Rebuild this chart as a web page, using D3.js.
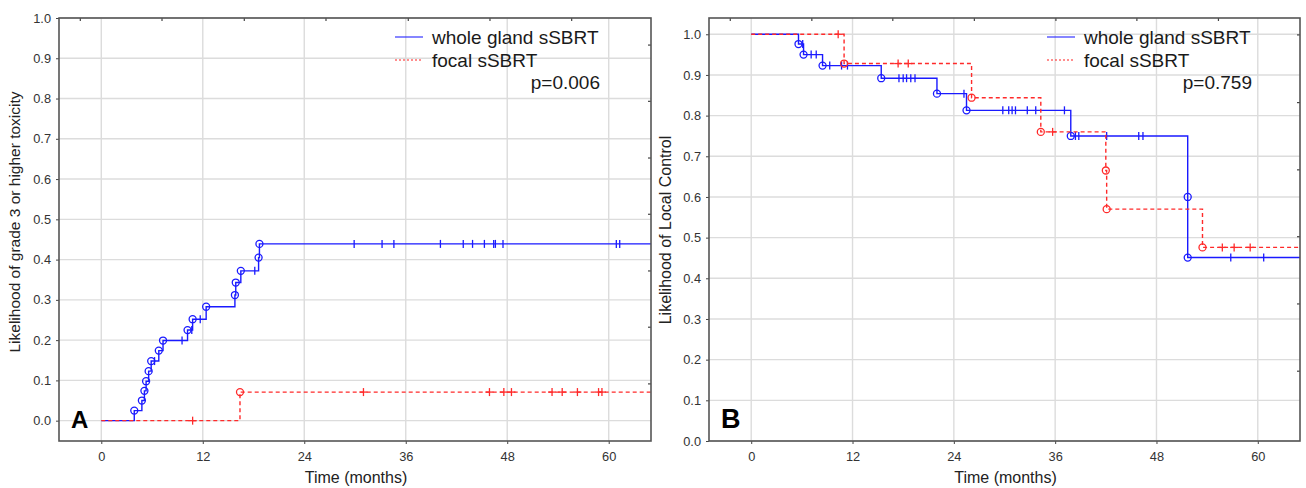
<!DOCTYPE html>
<html>
<head>
<meta charset="utf-8">
<script src="https://cdn.jsdelivr.net/npm/d3@7/dist/d3.min.js"></script>
<style>
  html, body { margin: 0; padding: 0; background: #fff; }
  svg { display: block; font-family: "Liberation Sans", Arial, sans-serif; }
</style>
</head>
<body>
<svg id="chart" width="1306" height="488"></svg>
<script>
// month ticks shared by both panels
const monthTicks = [0, 12, 24, 36, 48, 60];
const seriesNames = ['whole gland sSBRT', 'focal sSBRT'];

// Panel A: cumulative grade >= 3 toxicity
const wholeA_time = [0, 3.9, 4.8, 5.1, 5.3, 5.6, 5.9, 6.8, 7.3, 10.2, 10.8, 12.4, 15.8, 15.9, 16.5, 18.6, 18.7];
const wholeA_value = [0, 0.025, 0.050, 0.074, 0.098, 0.123, 0.148, 0.174, 0.199, 0.225, 0.252, 0.283, 0.312, 0.343, 0.372, 0.405, 0.439];
const wholeA_censor = [6.3, 9.55, 10.7, 11.7, 18.15, 29.9, 33.2, 34.6, 40.1, 42.8, 43.9, 45.3, 46.4, 46.6, 47.5, 60.9, 61.3];
const focalA_time = [0, 16.4];
const focalA_value = [0, 0.071];
const focalA_censor = [10.8, 31.0, 45.9, 47.6, 48.5, 53.3, 54.5, 56.3, 58.8, 59.2];
const yTicksA = [0, 0.1, 0.2, 0.3, 0.4, 0.5, 0.6, 0.7, 0.8, 0.9, 1.0];

// Panel B: local control
const wholeB_time = [0, 5.6, 6.2, 8.45, 15.4, 22.0, 25.5, 37.85, 51.7, 51.7];
const wholeB_value = [1, 0.976, 0.950, 0.923, 0.892, 0.854, 0.813, 0.750, 0.600, 0.451];
const wholeB_censor = [6.1, 7.1, 7.7, 9.3, 10.7, 11.4, 17.5, 18.0, 18.4, 18.9, 19.4, 25.2, 29.8, 30.5, 30.9, 31.3, 32.7, 33.7, 37.1, 38.4, 38.8, 42.1, 45.9, 46.4, 56.8, 60.7];
const focalB_time = [0, 11.0, 26.1, 34.3, 42.0, 42.1, 53.45];
const focalB_value = [1, 0.928, 0.844, 0.760, 0.665, 0.570, 0.476];
const focalB_censor = [10.3, 17.4, 18.6, 35.7, 55.8, 57.2, 59.1];
const yTicksB = [0, 0.1, 0.2, 0.3, 0.4, 0.5, 0.6, 0.7, 0.8, 0.9, 1.0];

const BLUE = '#1a1aff';
const RED = '#ff2a2a';

const svg = d3.select('#chart');

function drawPanel(cfg) {
  const { left, right, top, bottom } = cfg;
  const x = d3.scaleLinear().domain([-5, 65]).range([left, right]);
  const y = d3.scaleLinear().domain(cfg.yDomain).range([bottom, top]);

  const g = svg.append('g');
  const clipId = 'clip-' + cfg.id;
  svg.append('clipPath').attr('id', clipId)
    .append('rect')
    .attr('x', left).attr('y', top - 6)
    .attr('width', right - left).attr('height', bottom - top + 6);

  // grid
  g.append('g').selectAll('line').data(monthTicks).enter().append('line')
    .attr('x1', d => x(d)).attr('x2', d => x(d))
    .attr('y1', top).attr('y2', bottom)
    .attr('stroke', '#dcdcdc').attr('stroke-width', 1.4);
  g.append('g').selectAll('line').data(cfg.yTicks).enter().append('line')
    .attr('x1', left).attr('x2', right)
    .attr('y1', d => y(d)).attr('y2', d => y(d))
    .attr('stroke', '#dcdcdc').attr('stroke-width', 1.4);

  // axes
  const xAxis = g.append('g')
    .attr('transform', `translate(0,${bottom})`)
    .call(d3.axisBottom(x).tickValues(monthTicks).tickSize(3).tickPadding(8));
  const yAxis = g.append('g')
    .attr('transform', `translate(${left},0)`)
    .call(d3.axisLeft(y).tickValues(cfg.yTicks).tickFormat(d3.format('.1f')).tickSize(3).tickPadding(5));
  [xAxis, yAxis].forEach(a => {
    a.select('.domain').remove();
    a.selectAll('.tick line').attr('stroke', '#444');
    a.selectAll('.tick text')
      .attr('fill', '#333')
      .style('font-size', '12.8px')
      .style('font-family', '"Liberation Sans", Arial, sans-serif');
  });

  // stray minor ticks on top and right edges
  const topScale = d3.scaleLinear().domain([0, 1]).range([left, right]);
  g.append('g').selectAll('line').data(cfg.topTicks).enter().append('line')
    .attr('x1', d => topScale(d)).attr('x2', d => topScale(d))
    .attr('y1', top).attr('y2', top + 3)
    .attr('stroke', '#444').attr('stroke-width', 1.2);
  const rightScale = d3.scaleLinear().domain([0, 1]).range([top, bottom]);
  g.append('g').selectAll('line').data(cfg.rightTicks).enter().append('line')
    .attr('x1', right - 3).attr('x2', right)
    .attr('y1', d => rightScale(d)).attr('y2', d => rightScale(d))
    .attr('stroke', '#444').attr('stroke-width', 1.2);

  // survival / incidence curves
  const plot = g.append('g').attr('clip-path', `url(#${clipId})`);
  const stepLine = d3.line()
    .x(d => x(d[0])).y(d => y(d[1]))
    .curve(d3.curveStepAfter);

  cfg.series.forEach(s => {
    const pts = s.time.map((t, i) => [t, s.value[i]]);
    pts.push([65, s.value[s.value.length - 1]]);
    plot.append('path')
      .attr('d', stepLine(pts))
      .attr('fill', 'none')
      .attr('stroke', s.color)
      .attr('stroke-width', 1.4)
      .attr('stroke-dasharray', s.dash || null);

    // events
    plot.append('g').selectAll('circle')
      .data(pts.slice(1, -1)).enter().append('circle')
      .attr('cx', d => x(d[0])).attr('cy', d => y(d[1]))
      .attr('r', 3.5)
      .attr('fill', 'none')
      .attr('stroke', s.color)
      .attr('stroke-width', 1.3);

    // censored
    const valueAt = t => s.value[d3.bisectRight(s.time, t) - 1];
    const cg = plot.append('g');
    s.censor.forEach(t => {
      const cx = x(t), cy = y(valueAt(t));
      cg.append('line')
        .attr('x1', cx).attr('x2', cx).attr('y1', cy - 4).attr('y2', cy + 4)
        .attr('stroke', s.color).attr('stroke-width', 1.3);
      if (s.plus) {
        cg.append('line')
          .attr('x1', cx - 4).attr('x2', cx + 4).attr('y1', cy).attr('y2', cy)
          .attr('stroke', s.color).attr('stroke-width', 1.3);
      }
    });
  });

  // frame
  g.append('rect')
    .attr('x', left).attr('y', top)
    .attr('width', right - left).attr('height', bottom - top)
    .attr('fill', 'none').attr('stroke', '#555').attr('stroke-width', 1.6);

  // axis titles
  g.append('text')
    .attr('x', (left + right) / 2 + 1).attr('y', 483)
    .attr('text-anchor', 'middle')
    .style('font-size', '16px').attr('fill', '#222')
    .text('Time (months)');
  g.append('text')
    .attr('transform', `translate(${cfg.yLabelX},${cfg.yLabelY}) rotate(-90)`)
    .attr('text-anchor', 'middle')
    .style('font-size', cfg.yLabelSize).attr('fill', '#222')
    .text(cfg.yLabel);

  // panel letter
  g.append('text')
    .attr('x', left + 12).attr('y', bottom - 13)
    .style('font-size', cfg.letterSize).style('font-weight', 'bold')
    .style('font-family', cfg.letterFont)
    .attr('fill', '#000')
    .text(cfg.letter);

  // legend
  const lx = right - 256 + cfg.legendShift;
  const lg = g.append('g');
  cfg.series.forEach((s, i) => {
    const ly = top + 19 + i * 23;
    lg.append('line')
      .attr('x1', lx).attr('x2', lx + 28)
      .attr('y1', ly).attr('y2', ly)
      .attr('stroke', s.color).attr('stroke-opacity', 0.7).attr('stroke-width', 1.5)
      .attr('stroke-dasharray', s.dash ? '2,2' : null);
    lg.append('text')
      .attr('x', lx + 37).attr('y', ly + 7)
      .style('font-size', '19px').attr('fill', '#1a1a1a')
      .text(seriesNames[i]);
  });
  lg.append('text')
    .attr('x', right - 51 + cfg.legendShift).attr('y', top + 71)
    .attr('text-anchor', 'end')
    .style('font-size', '19px').attr('fill', '#1a1a1a')
    .text(cfg.pLabel);
}

drawPanel({
  id: 'A', left: 59, right: 651, top: 18, bottom: 441,
  yDomain: [-0.0505, 1.0], yTicks: yTicksA,
  topTicks: [0.036, 0.174, 0.313, 0.451, 0.590, 0.728, 0.866],
  rightTicks: [0.064, 0.197, 0.331, 0.464, 0.598, 0.731, 0.865],
  yLabel: 'Likelihood of grade 3 or higher toxicity', yLabelX: 20, yLabelY: 222, yLabelSize: '15.5px',
  letter: 'A', letterSize: '24px', letterFont: '"Liberation Sans", Arial, sans-serif',
  pLabel: 'p=0.006', legendShift: 0,
  series: [
    { time: wholeA_time, value: wholeA_value, censor: wholeA_censor, color: BLUE, plus: false },
    { time: focalA_time, value: focalA_value, censor: focalA_censor, color: RED, dash: '4,3', plus: true }
  ]
});

drawPanel({
  id: 'B', left: 709, right: 1300, top: 18, bottom: 441,
  yDomain: [0, 1.04], yTicks: yTicksB,
  topTicks: [0.036, 0.174, 0.311, 0.449, 0.587, 0.724, 0.862],
  rightTicks: [0.040, 0.200, 0.359, 0.517, 0.676, 0.835],
  yLabel: 'Likelihood of Local Control', yLabelX: 671, yLabelY: 230, yLabelSize: '16px',
  letter: 'B', letterSize: '27px', letterFont: '"Liberation Sans Narrow", "Liberation Sans", Arial, sans-serif',
  pLabel: 'p=0.759', legendShift: 3,
  series: [
    { time: wholeB_time, value: wholeB_value, censor: wholeB_censor, color: BLUE, plus: false },
    { time: focalB_time, value: focalB_value, censor: focalB_censor, color: RED, dash: '4,3', plus: true }
  ]
});
</script>
</body>
</html>
